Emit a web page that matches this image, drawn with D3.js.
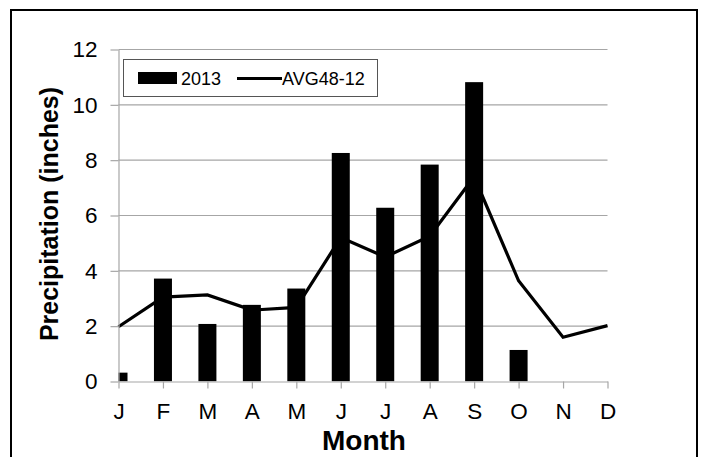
<!DOCTYPE html>
<html>
<head>
<meta charset="utf-8">
<script src="https://cdn.jsdelivr.net/npm/d3@7"></script>
<style>
  body { margin: 0; background: #fff; }
  text { font-family: 'Liberation Sans', Arial, sans-serif; }
</style>
</head>
<body>
<script>
(function () {
  'use strict'

  var months = ['J', 'F', 'M', 'A', 'M', 'J', 'J', 'A', 'S', 'O', 'N', 'D']
  var precip2013 = [0.32, 3.72, 2.08, 2.77, 3.36, 8.26, 6.28, 7.84, 10.82, 1.14, null, null]
  var avg4812 = [1.98, 3.05, 3.13, 2.58, 2.68, 5.2, 4.5, 5.25, 7.4, 3.64, 1.6, 2.02]
  var yTicks = [0, 2, 4, 6, 8, 10, 12]

  var dim = { w: 708, h: 457 }
  var plot = { left: 118.5, right: 607.5, top: 49.5, bottom: 381.5 }
  var grey = '#a6a6a6'

  var svg = d3.select('body').append('svg')
    .attr('width', dim.w)
    .attr('height', dim.h)

  // outer frame
  svg.append('rect')
    .attr('x', 11).attr('y', 10)
    .attr('width', 686).attr('height', 460)
    .attr('fill', 'none')
    .attr('stroke', '#000')
    .attr('stroke-width', 2)

  var x = d3.scalePoint().domain(d3.range(12)).range([plot.left, plot.right])
  var y = d3.scaleLinear().domain([0, 12]).range([plot.bottom, plot.top])

  // gridlines
  svg.append('g').selectAll('line').data(yTicks.slice(1))
    .enter().append('line')
    .attr('x1', plot.left).attr('x2', plot.right)
    .attr('y1', function (d) { return y(d) })
    .attr('y2', function (d) { return y(d) })
    .attr('stroke', grey)
    .attr('stroke-width', 1.2)

  var chart = svg.append('g').attr('class', 'chart')
  chart.append('clipPath').attr('id', 'clip')
    .append('rect')
    .attr('x', plot.left).attr('y', 0)
    .attr('width', plot.right - plot.left).attr('height', plot.bottom)

  var barW = 18
  var bars = precip2013.map(function (v, i) { return { i: i, v: v } })
    .filter(function (d) { return d.v != null })
  chart.append('g').attr('clip-path', 'url(#clip)')
    .selectAll('rect').data(bars)
    .enter().append('rect')
    .attr('x', function (d) { return x(d.i) - barW / 2 })
    .attr('y', function (d) { return y(d.v) })
    .attr('width', barW)
    .attr('height', function (d) { return y(0) - y(d.v) })
    .attr('fill', '#000')

  var line = d3.line()
    .x(function (d, i) { return x(i) })
    .y(function (d) { return y(d) })
  chart.append('path')
    .attr('d', line(avg4812))
    .attr('fill', 'none')
    .attr('stroke', '#000')
    .attr('stroke-width', 3.2)

  // axes
  var leftAxis = d3.axisLeft(y).tickValues(yTicks)
    .tickSizeInner(8).tickSizeOuter(0).tickPadding(13)
  var gy = svg.append('g')
    .attr('transform', 'translate(' + plot.left + ',0)')
    .call(leftAxis)
  gy.select('.domain').attr('stroke', grey).attr('stroke-width', 1.2)
  gy.selectAll('.tick line').attr('stroke', grey).attr('stroke-width', 1.2)
  gy.selectAll('.tick text')
    .attr('font-size', 22.5)
    .attr('fill', '#000')
    .attr('font-family', "'Liberation Sans', Arial, sans-serif")

  var bottomAxis = d3.axisBottom(x)
    .tickFormat(function (i) { return months[i] })
    .tickSizeInner(7).tickSizeOuter(0).tickPadding(15)
  var gx = svg.append('g')
    .attr('transform', 'translate(0,' + plot.bottom + ')')
    .call(bottomAxis)
  gx.select('.domain').attr('stroke', grey).attr('stroke-width', 1.2)
  gx.selectAll('.tick line').attr('stroke', grey).attr('stroke-width', 1.2)
  gx.selectAll('.tick text')
    .attr('font-size', 22.5)
    .attr('fill', '#000')
    .attr('font-family', "'Liberation Sans', Arial, sans-serif")

  // titles
  svg.append('text')
    .attr('x', 364).attr('y', 450)
    .attr('text-anchor', 'middle')
    .attr('font-size', 28)
    .attr('font-weight', 'bold')
    .text('Month')

  svg.append('text')
    .attr('transform', 'translate(58,214) rotate(-90)')
    .attr('text-anchor', 'middle')
    .attr('font-size', 25)
    .attr('font-weight', 'bold')
    .text('Precipitation (inches)')

  // legend
  var lg = svg.append('g')
  lg.append('rect')
    .attr('x', 123.5).attr('y', 59.5)
    .attr('width', 254).attr('height', 37)
    .attr('fill', '#fff')
    .attr('stroke', '#555')
    .attr('stroke-width', 1)
  lg.append('rect')
    .attr('x', 138).attr('y', 72)
    .attr('width', 39).attr('height', 12)
    .attr('fill', '#000')
  lg.append('text')
    .attr('x', 181).attr('y', 85)
    .attr('font-size', 18)
    .text('2013')
  lg.append('line')
    .attr('x1', 237).attr('x2', 282)
    .attr('y1', 78.5).attr('y2', 78.5)
    .attr('stroke', '#000')
    .attr('stroke-width', 3)
  lg.append('text')
    .attr('x', 282).attr('y', 85)
    .attr('font-size', 18)
    .text('AVG48-12')
}())
</script>
</body>
</html>
